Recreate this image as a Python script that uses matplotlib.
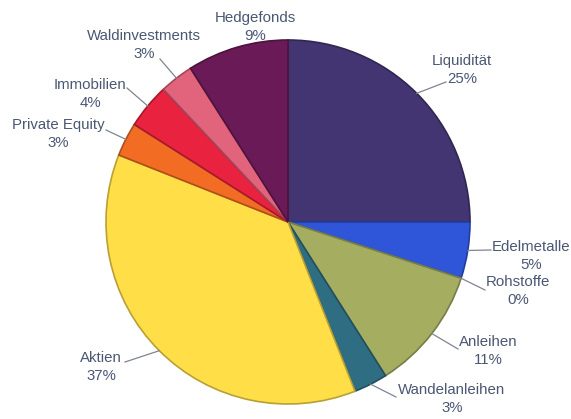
import matplotlib
matplotlib.use("Agg")
import matplotlib.pyplot as plt
import numpy as np
from matplotlib.colors import to_rgb

categories = ["Liquidität", "Edelmetalle", "Rohstoffe", "Anleihen", "Wandelanleihen",
              "Aktien", "Private Equity", "Immobilien", "Waldinvestments", "Hedgefonds"]
values = [25, 5, 0, 11, 3, 37, 3, 4, 3, 9]
colors = ["#433572", "#2F55D9", "#888888", "#A4AD60", "#2F6E82",
          "#FFDE48", "#F26C24", "#E8223F", "#E2637C", "#6A1A56"]

# label text centres (pixel coords, y from top) and leader-line end points
label_pos = {
    "Liquidität": (462, 70),
    "Edelmetalle": (531, 256),
    "Rohstoffe": (518, 291),
    "Anleihen": (488, 351),
    "Wandelanleihen": (452, 399),
    "Aktien": (101, 367),
    "Private Equity": (58, 134),
    "Immobilien": (90, 94),
    "Waldinvestments": (144, 45),
    "Hedgefonds": (255, 27),
}
line_end = {
    "Liquidität": (446, 82),
    "Edelmetalle": (491, 250),
    "Rohstoffe": (485, 290),
    "Anleihen": (458, 349),
    "Wandelanleihen": (396, 397),
    "Aktien": (125, 362),
    "Private Equity": (106, 130),
    "Immobilien": (127, 88),
    "Waldinvestments": (160, 59),
    "Hedgefonds": None,
}

W, H = 571, 419
fig = plt.figure(figsize=(W / 100, H / 100), dpi=100)
ax = fig.add_axes([0, 0, 1, 1])

cx, cy, R = 288, H - 222, 182

def darker(c, f=0.7):
    r, g, b = to_rgb(c)
    return (r * f, g * f, b * f)

wedges, _ = ax.pie(values, startangle=90, counterclock=False, colors=colors,
                   center=(cx, cy), radius=R, frame=True,
                   wedgeprops=dict(linewidth=1.2))
for w, c in zip(wedges, colors):
    w.set_edgecolor(darker(c, 0.72))
ax.set_xlim(0, W)
ax.set_ylim(0, H)
ax.set_aspect("equal")
ax.axis("off")

txt_color = "#4B5773"
for w, name, v in zip(wedges, categories, values):
    mid = np.deg2rad((w.theta1 + w.theta2) / 2)
    px, py = cx + R * np.cos(mid), cy + R * np.sin(mid)
    lx, ly = label_pos[name]
    end = line_end[name]
    if end is not None:
        ex, ey = end
        ax.plot([px, ex], [py, H - ey], color="#7F8590", lw=0.9, zorder=5)
    ax.text(lx, H - ly, f"{name}\n{v}%", ha="center", va="center",
            fontsize=10.8, family="Liberation Sans", color=txt_color,
            linespacing=1.3, zorder=6)

fig.savefig("out.png", dpi=100)
